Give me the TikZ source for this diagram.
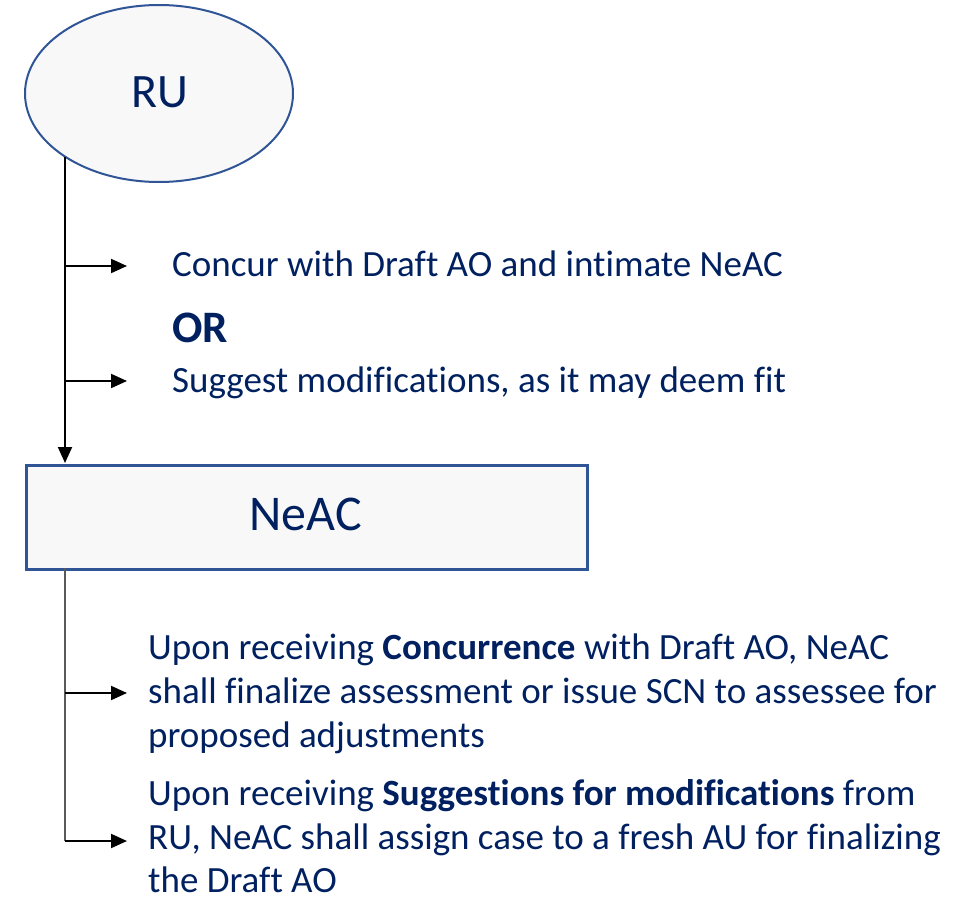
\documentclass[tikz,border=0pt]{standalone}
\usepackage{fontspec}
\setmainfont[Ligatures=NoCommon]{Carlito}
\usetikzlibrary{arrows.meta}
\definecolor{navy}{HTML}{002060}
\definecolor{edgeblue}{HTML}{2F5597}
\definecolor{panel}{HTML}{F8F8F8}
\definecolor{stem}{HTML}{595959}
\tikzset{
  txt/.style={anchor=base west, inner sep=0pt, text=navy, font=\fontsize{37}{44}\selectfont},
  flow/.style={line width=2pt, -{Triangle[length=16pt,width=14pt]}},
  trunk/.style={line width=2pt},
  thintrunk/.style={line width=1.5pt, draw=stem},
}
\begin{document}
\begin{tikzpicture}[x=1pt,y=-1pt]
\useasboundingbox (0,0) rectangle (966,899);

% top entity
\draw[edgeblue, line width=2pt, fill=panel] (159,93.5) ellipse [x radius=134, y radius=88.5];
\node[anchor=base, inner sep=0pt, text=navy, font=\fontsize{48}{56}\selectfont] (ru) at (159.5,107) {RU};
\coordinate (ruout) at (65,156.6);

% receiving box
\node[draw=edgeblue, line width=2.5pt, fill=panel, minimum width=561pt, minimum height=104pt, inner sep=0pt, anchor=north west] (neac) at (25,464) {};
\node[anchor=base, inner sep=0pt, text=navy, font=\fontsize{50}{58}\selectfont] (neaclbl) at (305.5,530) {NeAC};

% options of RU
\coordinate (b1) at (65,266);
\coordinate (b2) at (65,381);
\coordinate (t1) at (127,266);
\coordinate (t2) at (127,381);
\draw[trunk] (ruout) -- (b1);
\draw[flow] (ruout) -- (65,463);
\draw[flow] (b1) -- (t1);
\draw[flow] (b2) -- (t2);
\node[txt] (opt1) at (172,276) {Concur with Draft AO and intimate NeAC};
\node[txt, font=\fontsize{45}{54}\selectfont\bfseries] (orword) at (172,342) {OR};
\node[txt] (opt2) at (172,392) {Suggest modifications, as it may deem fit};

% actions of NeAC
\coordinate (nout) at (65,568);
\coordinate (c1) at (65,693);
\coordinate (c2) at (65,841);
\coordinate (u1) at (127,693);
\coordinate (u2) at (127,841);
\draw[thintrunk] (nout) -- (c2);
\draw[flow] (c1) -- (u1);
\draw[flow] (c2) -- (u2);
\node[txt] (a1) at (148,659) {Upon receiving \textbf{Concurrence} with Draft AO, NeAC};
\node[txt] (a2) at (148,703) {shall finalize assessment or issue SCN to assessee for};
\node[txt] (a3) at (148,747) {proposed adjustments};
\node[txt] (s1) at (148,805) {Upon receiving \textbf{Suggestions for modifications} from};
\node[txt] (s2) at (148,849) {RU, NeAC shall assign case to a fresh AU for finalizing};
\node[txt] (s3) at (148,892) {the Draft AO};
\end{tikzpicture}
\end{document}
